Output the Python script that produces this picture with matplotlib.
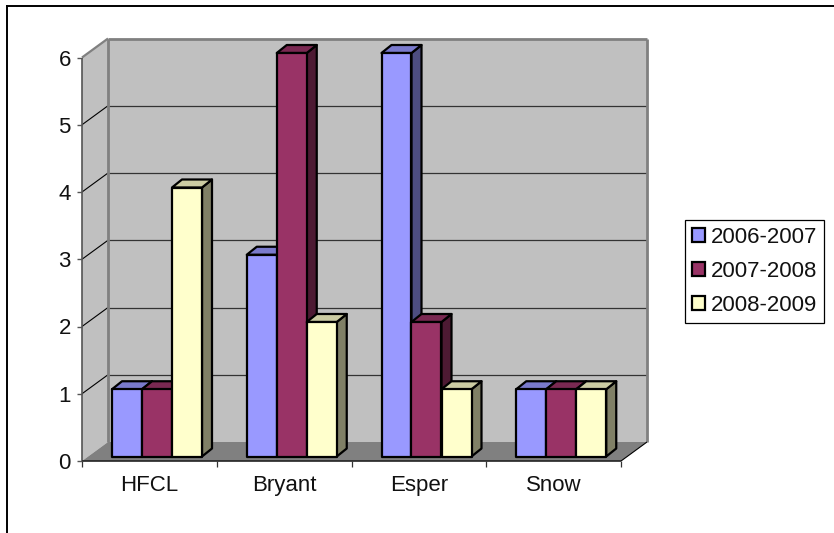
import matplotlib
matplotlib.use("Agg")
import matplotlib.pyplot as plt
from matplotlib.patches import Patch, Polygon
from matplotlib.lines import Line2D

plt.rcParams['font.family'] = ['Liberation Sans', 'DejaVu Sans']

W, H = 834, 533

categories = ["HFCL", "Bryant", "Esper", "Snow"]
seasons = ["2006-2007", "2007-2008", "2008-2009"]
v_2006 = [1, 3, 6, 1]
v_2007 = [1, 6, 2, 1]
v_2008 = [4, 2, 1, 1]
yticks = [0, 1, 2, 3, 4, 5, 6]

front_c = ['#9999FF', '#993366', '#FFFFCC']
top_c = ['#7A7ACC', '#7A2952', '#CCCCA3']
side_c = ['#4D4D80', '#4D1A33', '#808066']

# pixel layout of the front plane
x0_px, x1_px = 82, 621
y0_px, y6_px = 461, 57.5

fig = plt.figure(figsize=(W / 100, H / 100), dpi=100)
ax = fig.add_axes([x0_px / W, 1 - y0_px / H, (x1_px - x0_px) / W, (y0_px - y6_px) / H])
ax.set_xlim(0, len(categories))
ax.set_ylim(0, 6)
ax.patch.set_visible(False)
for s in ax.spines.values():
    s.set_visible(False)

# px -> data
ux = (x1_px - x0_px) / len(categories)
uy = (y0_px - y6_px) / 6
DX, DY = 26 / ux, 19 / uy  # depth of the walls
dx, dy = 10 / ux, 8 / uy   # depth of a bar
gap_x, gap_y = 30 / ux, 4.5 / uy  # bar offset from the tick and front edge
bw = 30 / ux
top = max(yticks)
n = len(categories)


def poly(pts, fc, ec='none', lw=0, z=1):
    ax.add_patch(Polygon(pts, closed=True, fc=fc, ec=ec, lw=lw, zorder=z,
                         clip_on=False, joinstyle='round'))


def line(xs, ys, c, lw, z=2):
    ax.add_line(Line2D(xs, ys, color=c, lw=lw, zorder=z, clip_on=False,
                       solid_capstyle='butt'))


# walls and floor
poly([(DX, DY), (n + DX, DY), (n + DX, top + DY), (DX, top + DY)], '#C0C0C0')
poly([(0, 0), (DX, DY), (DX, top + DY), (0, top)], '#C0C0C0')
poly([(0, 0), (n, 0), (n + DX, DY), (DX, DY)], '#808080')

# gridlines
for t in yticks[1:-1]:
    line([0, DX], [t, t + DY], '#000000', 0.8)
    line([DX, n + DX], [t + DY, t + DY], '#333333', 0.9)

# wall edges
line([DX, DX], [DY, top + DY], '#808080', 2.0)
line([n + DX, n + DX], [DY, top + DY], '#808080', 2.0)
line([DX, n + DX], [top + DY, top + DY], '#808080', 2.0)
line([0, DX], [top, top + DY], '#808080', 1.6)
line([n, n + DX], [0, DY], '#000000', 0.8)

# axis lines and ticks
line([0, 0], [0, top], '#555555', 1.2, z=3)
line([0, n], [0, 0], '#222222', 1.2, z=3)
for t in yticks:
    line([-5 / ux, 0], [t, t], '#555555', 1.0, z=3)
for i in range(n + 1):
    line([i, i], [0, -6 / uy], '#333333', 0.9, z=3)

# bars
series = [v_2006, v_2007, v_2008]
z = 5
for i in range(n):
    for j, vals in enumerate(series):
        v = vals[i]
        xl = i + gap_x + j * bw
        xr = xl + bw
        b = gap_y
        t = gap_y + v
        poly([(xr, b), (xr + dx, b + dy), (xr + dx, t + dy), (xr, t)], side_c[j], 'k', 1.6, z)
        poly([(xl, t), (xr, t), (xr + dx, t + dy), (xl + dx, t + dy)], top_c[j], 'k', 1.6, z + 1)
        poly([(xl, b), (xr, b), (xr, t), (xl, t)], front_c[j], 'k', 1.6, z + 2)
        z += 3

ax.set_xticks([i + 0.5 for i in range(n)], categories, fontsize=16, color='#111111')
ax.set_yticks(yticks, [str(t) for t in yticks], fontsize=16, color='#111111')
ax.tick_params(length=0)
ax.tick_params(axis='x', pad=10)
ax.tick_params(axis='y', pad=8)

# legend
handles = [Patch(fc=c, ec='k', lw=1.6) for c in front_c]
leg = fig.legend(handles, seasons, loc='center left', bbox_to_anchor=(685 / W, 1 - 271.5 / H),
                 fontsize=16, frameon=True, fancybox=False, edgecolor='k', framealpha=1,
                 handlelength=0.6, handleheight=0.6, handletextpad=0.25,
                 labelspacing=0.58, borderpad=0.32, borderaxespad=0, labelcolor='#111111')
leg.get_frame().set_linewidth(0.9)

# chart area border, only left and top fall inside the image
fig.add_artist(Line2D([7 / W, 7 / W], [0, 1 - 6 / H], color='k', lw=1.4))
fig.add_artist(Line2D([7 / W, 1], [1 - 6 / H, 1 - 6 / H], color='k', lw=1.4))

fig.savefig("out.png", dpi=100)
